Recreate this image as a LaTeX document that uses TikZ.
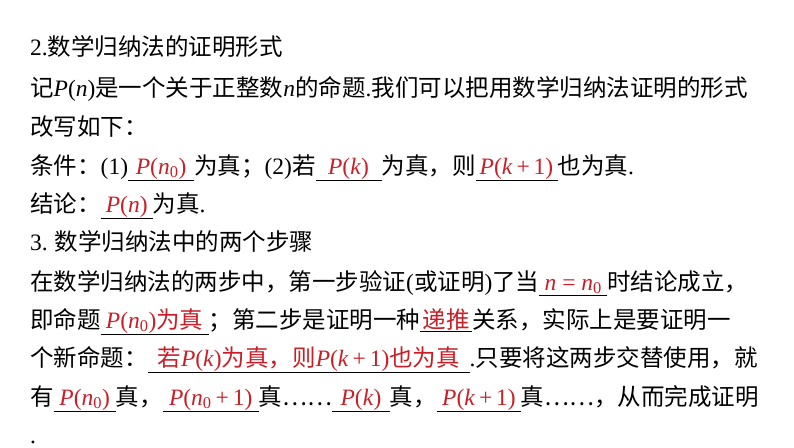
\documentclass[tikz,border=0pt]{standalone}
\usepackage{fontspec}
\setmainfont{Liberation Serif}
\newfontfamily\cjk{Noto Sans CJK SC}
\newfontfamily\lat{Liberation Serif}
\definecolor{ansred}{RGB}{200,30,40}
\newcommand{\bl}[2]{\underline{\makebox[#1pt]{\color{ansred}#2}}}
\newcommand{\la}[1]{{\lat #1}}
\newcommand{\mP}[1]{{\lat\textit{P}(\textit{#1})}}
\newcommand{\sub}[1]{{\lat\textit{n}\textsubscript{0}}}
\tikzset{ln/.style={anchor=base west,inner sep=0pt,font=\cjk\fontsize{23.5}{28}\selectfont}}
\begin{document}
\begin{tikzpicture}[x=1pt,y=1pt]
\useasboundingbox (0,0) rectangle (794,-447);
\node[ln] (l1) at (30,-55) {\la{2.}数学归纳法的证明形式};
\node[ln] (l2) at (30,-96) {记\mP{n}是一个关于正整数\la{\textit{n}}的命题\la{.}我们可以把用数学归纳法证明的形式};
\node[ln] (l3) at (30,-135) {改写如下：};
\node[ln] (l4) at (30,-174) {条件：\la{(1)}\bl{66}{{\lat\textit{P}(\sub{})}}为真；\la{(2)}若\bl{66}{\mP{k}}为真，则\bl{82}{\la{\textit{P}(\textit{k}\,+\,1)}}也为真\la{.}};
\node[ln] (l5) at (30,-212) {结论：\bl{52}{\mP{n}}为真\la{.}};
\node[ln] (l6) at (30,-250) {\la{3.} 数学归纳法中的两个步骤};
\node[ln] (l7) at (30,-290) {在数学归纳法的两步中，第一步验证\la{(}或证明\la{)}了当\bl{68}{\la{\textit{n} = }\sub{}}时结论成立，};
\node[ln] (l8) at (30,-328) {即命题\bl{108}{{\lat\textit{P}(\sub{})}为真}；第二步是证明一种\bl{52}{递推}关系，实际上是要证明一};
\node[ln] (l9) at (30,-366) {个新命题：\bl{322}{若\mP{k}为真，则\la{\textit{P}(\textit{k}\,+\,1)}也为真}\la{.}只要将这两步交替使用，就};
\node[ln] (l10) at (30,-405) {有\bl{62}{{\lat\textit{P}(\sub{})}}真，\bl{96}{{\lat\textit{P}(\sub{}\,+\,1)}}真……\bl{58}{\mP{k}}真，\bl{84}{\la{\textit{P}(\textit{k}\,+\,1)}}真……，从而完成证明};
\node[ln] (l11) at (30,-443) {\la{.}};
\end{tikzpicture}
\end{document}
